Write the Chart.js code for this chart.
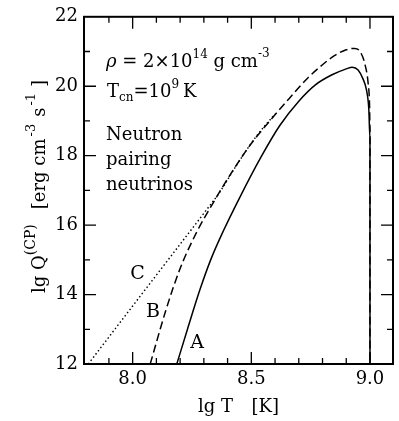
<!DOCTYPE html>
<html>
<head>
<meta charset="utf-8">
<script src="https://cdn.jsdelivr.net/npm/chart.js@4/dist/chart.umd.min.js"></script>
<style>
  html, body { margin: 0; padding: 0; background: #fff; }
</style>
</head>
<body>
<canvas id="chart" width="399" height="421"></canvas>
<script>
// curve A (solid)
const lgT_A = [8.186, 8.23, 8.284, 8.33, 8.382, 8.45, 8.54, 8.62, 8.70, 8.77, 8.84, 8.90, 8.925, 8.95, 8.97, 8.985, 8.995, 9.0, 9.0];
const lgQ_A = [12.0, 12.98, 14.15, 15.02, 15.83, 16.78, 17.95, 18.87, 19.57, 20.04, 20.33, 20.5, 20.55, 20.47, 20.22, 19.9, 19.35, 18.5, 12.0];
// curve B (dashed)
const lgT_B = [8.074, 8.14, 8.20, 8.27, 8.34, 8.42, 8.50, 8.58, 8.66, 8.74, 8.80, 8.85, 8.90, 8.935, 8.96, 8.98, 8.992, 8.998, 9.0, 9.0];
const lgQ_B = [12.0, 13.55, 14.75, 15.8, 16.65, 17.55, 18.35, 19.02, 19.65, 20.25, 20.62, 20.88, 21.05, 21.09, 20.98, 20.6, 20.1, 19.5, 18.8, 12.0];
// curve C (dotted)
const lgT_C = [7.813, 8.0, 8.2, 8.3, 8.37, 8.44, 8.52, 8.60];
const lgQ_C = [12.0, 13.67, 15.45, 16.34, 16.98, 17.75, 18.55, 19.2];

const xTickValues = [8.0, 8.5, 9.0];
const xMinorValues = [7.9, 8.0, 8.1, 8.2, 8.3, 8.4, 8.5, 8.6, 8.7, 8.8, 8.9, 9.0];
const yMinorValues = [13, 14, 15, 16, 17, 18, 19, 20, 21];

const serif = '"DejaVu Serif", serif';

function pts(xs, ys) {
  return xs.map((v, i) => ({ x: v, y: ys[i] }));
}

function drawRuns(ctx, x, y, runs) {
  runs.forEach(r => {
    ctx.font = (r.it ? 'italic ' : '') + r.size + 'px ' + serif;
    ctx.fillText(r.t, x, y + (r.dy || 0));
    x += ctx.measureText(r.t).width + (r.gap || 0);
  });
}

const frameTicks = {
  id: 'frameTicks',
  afterDatasetsDraw(chart) {
    const { ctx, chartArea: a, scales: { x, y } } = chart;
    ctx.save();
    ctx.strokeStyle = '#000';
    ctx.lineWidth = 1.3;
    ctx.beginPath();
    xMinorValues.forEach(v => {
      const px = x.getPixelForValue(v);
      const len = Math.abs(v * 2 - Math.round(v * 2)) < 1e-6 ? 12 : 6;
      ctx.moveTo(px, a.bottom); ctx.lineTo(px, a.bottom - len);
      ctx.moveTo(px, a.top); ctx.lineTo(px, a.top + len);
    });
    yMinorValues.forEach(v => {
      const py = y.getPixelForValue(v);
      const len = v % 2 === 0 ? 12 : 6;
      ctx.moveTo(a.left, py); ctx.lineTo(a.left + len, py);
      ctx.moveTo(a.right, py); ctx.lineTo(a.right - len, py);
    });
    ctx.stroke();
    ctx.lineWidth = 2;
    ctx.strokeRect(a.left, a.top, a.right - a.left, a.bottom - a.top);
    ctx.restore();
  }
};

const texts = {
  id: 'texts',
  afterDraw(chart) {
    const { ctx, scales: { x, y } } = chart;
    ctx.save();
    ctx.fillStyle = '#000';
    ctx.textBaseline = 'alphabetic';
    ctx.textAlign = 'left';

    drawRuns(ctx, 106, 67, [
      { t: 'ρ', size: 18, it: true },
      { t: ' = 2×10', size: 18 },
      { t: '14', size: 12, dy: -9 },
      { t: ' g cm', size: 18 },
      { t: '-3', size: 12, dy: -10 }
    ]);
    drawRuns(ctx, 107, 97, [
      { t: 'T', size: 18 },
      { t: 'cn', size: 12, dy: 4 },
      { t: '=10', size: 18 },
      { t: '9', size: 12, dy: -9, gap: 4 },
      { t: 'K', size: 18 }
    ]);
    ctx.font = '18px ' + serif;
    ctx.fillText('Neutron', 106, 140);
    ctx.fillText('pairing', 106, 165);
    ctx.fillText('neutrinos', 106, 190);

    // curve labels
    ctx.font = '19px ' + serif;
    ctx.textAlign = 'center';
    ctx.textBaseline = 'middle';
    ctx.fillText('A', x.getPixelForValue(8.272), y.getPixelForValue(12.6));
    ctx.fillText('B', x.getPixelForValue(8.086), y.getPixelForValue(13.49));
    ctx.fillText('C', x.getPixelForValue(8.02), y.getPixelForValue(14.58));

    // x title
    ctx.textAlign = 'left';
    ctx.textBaseline = 'alphabetic';
    ctx.font = '18px ' + serif;
    ctx.fillText('lg T', 198, 412);
    ctx.textAlign = 'right';
    ctx.fillText('[K]', 279, 412);

    // y title (rotated)
    ctx.textAlign = 'left';
    ctx.translate(45, 293);
    ctx.rotate(-Math.PI / 2);
    drawRuns(ctx, 0, 0, [
      { t: 'lg Q', size: 18 },
      { t: '(CP)', size: 14, dy: -10, gap: 15 },
      { t: '[erg cm', size: 18, gap: 2 },
      { t: '-3', size: 13, dy: -10, gap: 7 },
      { t: 's', size: 18, gap: 2 },
      { t: '-1', size: 13, dy: -10, gap: 6 },
      { t: ']', size: 18 }
    ]);
    ctx.restore();
  }
};

new Chart(document.getElementById('chart'), {
  type: 'scatter',
  data: {
    datasets: [
      {
        label: 'A',
        data: pts(lgT_A, lgQ_A),
        showLine: true,
        cubicInterpolationMode: 'monotone',
        borderColor: '#000',
        borderWidth: 1.5,
        pointRadius: 0
      },
      {
        label: 'B',
        data: pts(lgT_B, lgQ_B),
        showLine: true,
        cubicInterpolationMode: 'monotone',
        borderColor: '#000',
        borderWidth: 1.5,
        borderDash: [8, 4],
        pointRadius: 0
      },
      {
        label: 'C',
        data: pts(lgT_C, lgQ_C),
        showLine: true,
        cubicInterpolationMode: 'monotone',
        borderColor: '#000',
        borderWidth: 1.4,
        borderDash: [1.5, 2.5],
        pointRadius: 0
      }
    ]
  },
  options: {
    responsive: false,
    animation: false,
    layout: { padding: { left: 0, right: 6, top: 13, bottom: 0 } },
    plugins: {
      legend: { display: false },
      tooltip: { enabled: false }
    },
    scales: {
      x: {
        type: 'linear',
        min: 7.795,
        max: 9.097,
        afterBuildTicks: s => { s.ticks = xTickValues.map(v => ({ value: v })); },
        afterFit: s => { s.height = 57; },
        grid: { display: false, drawTicks: false },
        border: { display: false },
        ticks: {
          color: '#000',
          padding: 5,
          font: { family: serif, size: 18 },
          callback: v => v.toFixed(1)
        }
      },
      y: {
        min: 12,
        max: 22,
        afterFit: s => { s.width = 84; },
        grid: { display: false, drawTicks: false },
        border: { display: false },
        ticks: {
          color: '#000',
          stepSize: 2,
          padding: 6,
          font: { family: serif, size: 18 }
        }
      }
    }
  },
  plugins: [frameTicks, texts]
});
</script>
</body>
</html>
